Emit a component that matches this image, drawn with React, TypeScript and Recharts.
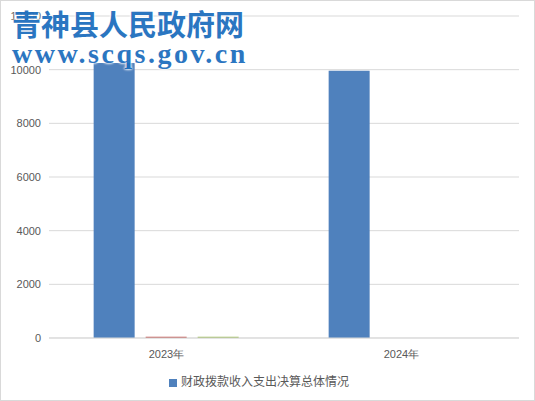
import { BarChart, Bar, XAxis, YAxis, CartesianGrid, Legend } from "recharts";

const years = ["2023年", "2024年"];
const totalValues = [10250, 9960];
const secondValues = [50, 0];
const thirdValues = [45, 0];
const yTicks = [0, 2000, 4000, 6000, 8000, 10000, 12000];

const data = years.map((year, i) => ({
  year,
  total: totalValues[i],
  second: secondValues[i],
  third: thirdValues[i],
}));

const axisFont = { fontSize: 11, fill: "#595959", fontFamily: "Liberation Sans, Arial, sans-serif" };

export default function App() {
  return (
    <div
      style={{
        position: "absolute",
        left: 0,
        top: 0,
        width: 535,
        height: 401,
        background: "#fff",
        boxSizing: "border-box",
        border: "1px solid #d9d9d9",
      }}
    >
      <BarChart
        width={533}
        height={399}
        data={data}
        margin={{ top: 15, right: 15, left: 8, bottom: 11 }}
        barCategoryGap="19%"
        barGap={11}
      >
        <CartesianGrid vertical={false} stroke="#d9d9d9" />
        <XAxis
          dataKey="year"
          stroke="#d9d9d9"
          tickLine={false}
          tick={axisFont}
          tickMargin={6}
          height={34}
        />
        <YAxis
          domain={[0, 12000]}
          ticks={yTicks}
          axisLine={false}
          tickLine={false}
          tickSize={0}
          tickMargin={8}
          width={40}
          tick={axisFont}
        />
        <Legend
          verticalAlign="bottom"
          iconType="square"
          iconSize={8}
          wrapperStyle={{ fontSize: 12, color: "#595959", fontFamily: "Noto Sans CJK SC, sans-serif" }}
          formatter={(v) => <span style={{ color: "#595959" }}>{v}</span>}
        />
        <Bar dataKey="total" name="财政拨款收入支出决算总体情况" fill="#4f81bd" isAnimationActive={false} />
        <Bar dataKey="second" name="项目二" fill="#c0504d" legendType="none" isAnimationActive={false} />
        <Bar dataKey="third" name="项目三" fill="#9bbb59" legendType="none" isAnimationActive={false} />
      </BarChart>
      <div
        style={{
          position: "absolute",
          left: 11,
          top: 8,
          color: "#1f6fbe",
          fontWeight: "bold",
          pointerEvents: "none",
          textShadow: "0 0 3px #fff, 0 0 3px #fff, 0 0 2px #fff",
          lineHeight: 1,
          opacity: 0.95,
        }}
      >
        <div style={{ fontSize: 29, fontFamily: "Noto Sans CJK SC, sans-serif" }}>
          青神县人民政府网
        </div>
        <div
          style={{
            fontSize: 28,
            fontFamily: "Liberation Serif, serif",
            letterSpacing: 2.5,
            marginTop: 2,
          }}
        >
          www.scqs.gov.cn
        </div>
      </div>
    </div>
  );
}
